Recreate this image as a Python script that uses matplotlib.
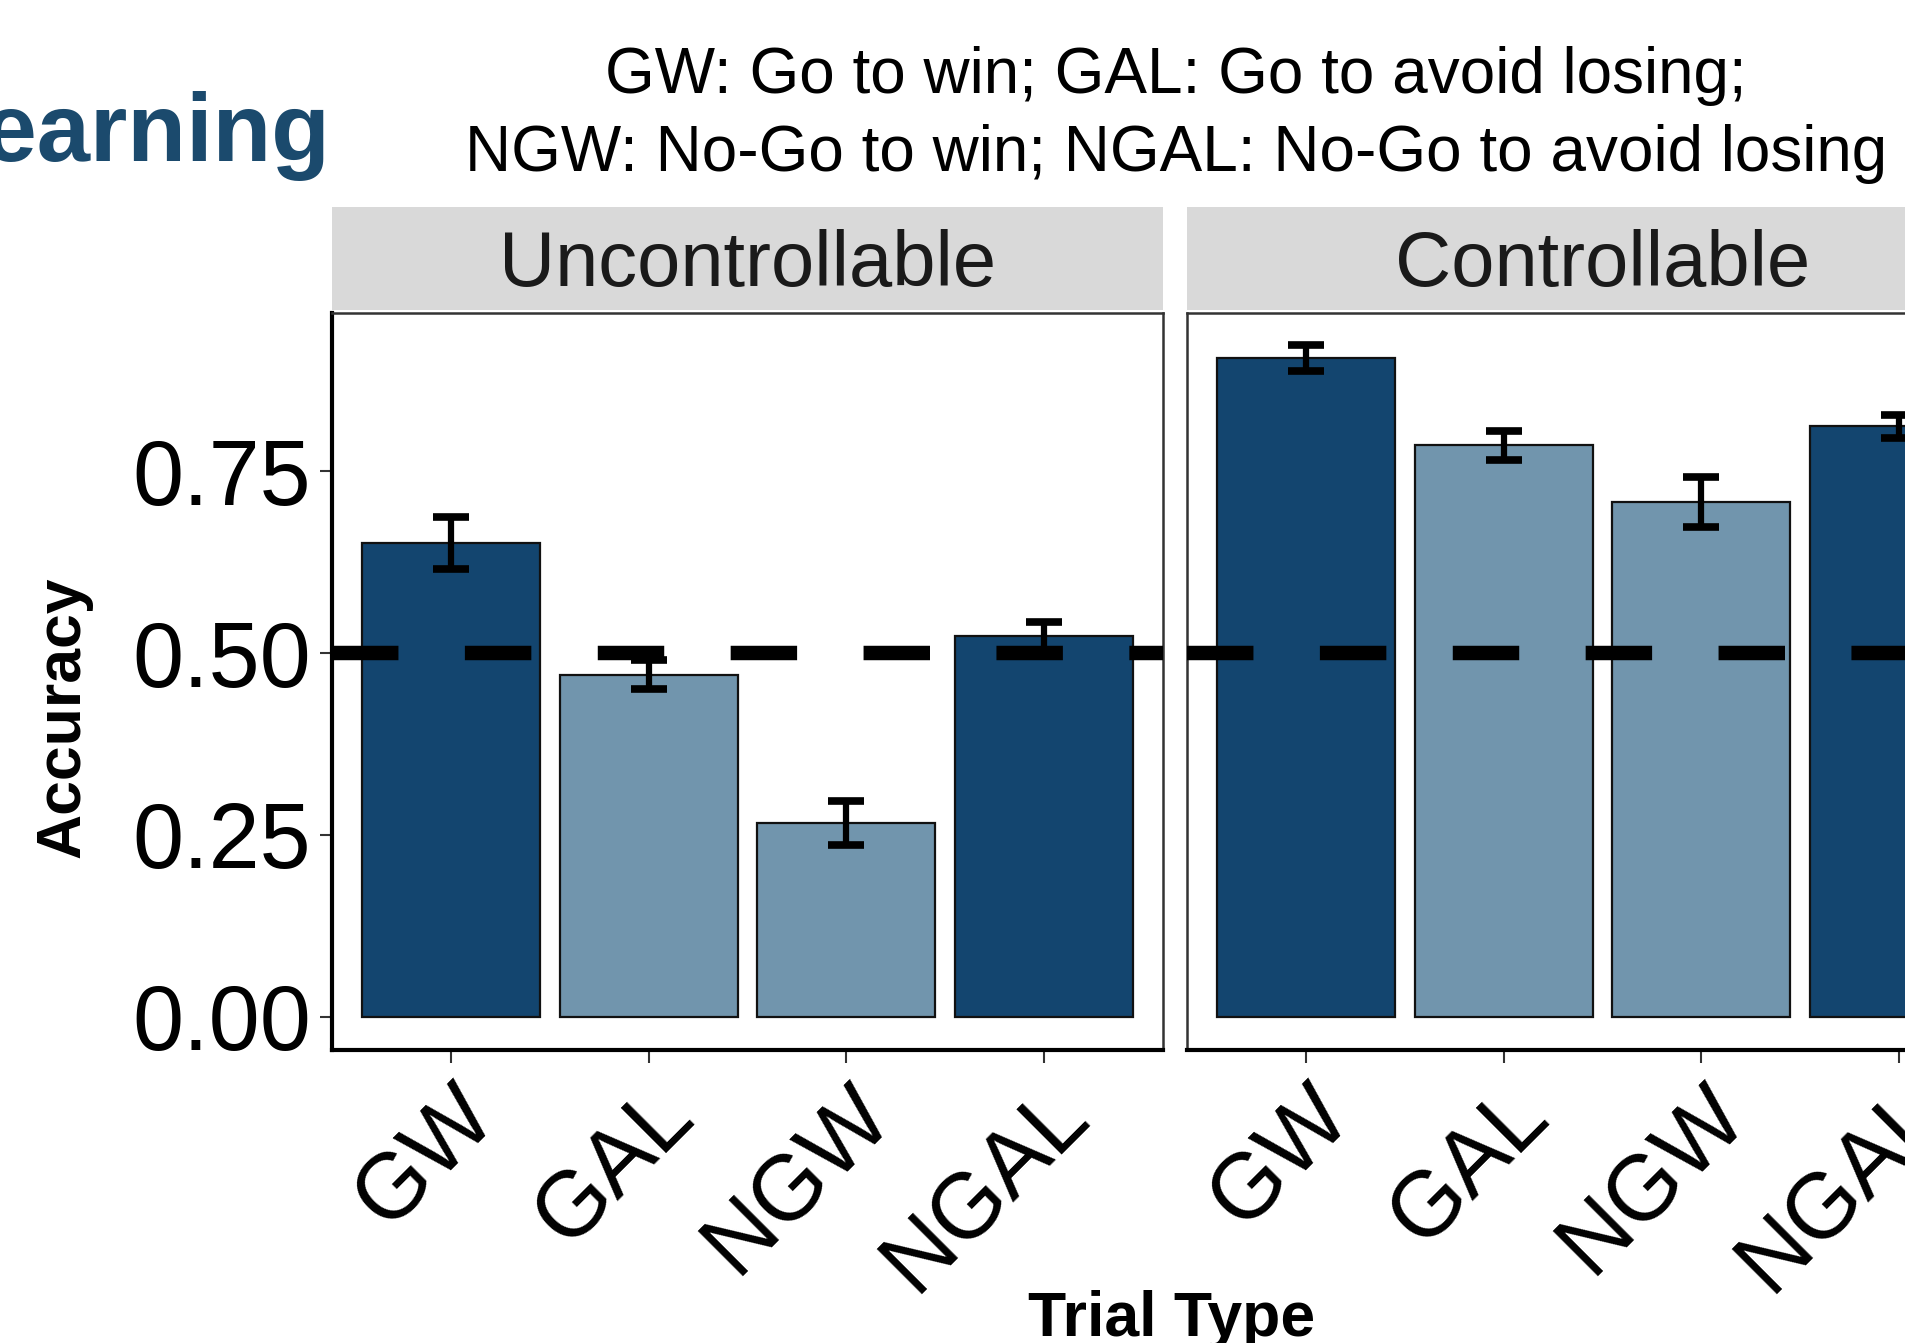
import matplotlib.pyplot as plt
from matplotlib.patches import Rectangle

plt.rcParams['font.family'] = ['Liberation Sans', 'DejaVu Sans']

# accuracy per trial type, with standard errors
trial_types = ['GW', 'GAL', 'NGW', 'NGAL']
conditions = ['Uncontrollable', 'Controllable']
acc_uncontrollable = [0.652, 0.470, 0.266, 0.524]
se_uncontrollable = [0.036, 0.020, 0.030, 0.019]
acc_controllable = [0.906, 0.786, 0.708, 0.812]
se_controllable = [0.018, 0.020, 0.034, 0.016]
chance = 0.5

dark = '#13456f'
light = '#7195ad'
bar_colors = [dark, light, light, dark]

W, H = 1905, 1343
fig = plt.figure(figsize=(W / 100, H / 100), dpi=100)

def frac(x0, y0, x1, y1):
    # pixel box -> figure fraction [left, bottom, width, height]
    return [x0 / W, 1 - y1 / H, (x1 - x0) / W, (y1 - y0) / H]

panel_x = [(332, 1163), (1187, 2018)]
panel_y = (313, 1050)
strip_y = (207, 310)

data = [(acc_uncontrollable, se_uncontrollable), (acc_controllable, se_controllable)]
pos = list(range(1, len(trial_types) + 1))

for i, (x0, x1) in enumerate(panel_x):
    ax = fig.add_axes(frac(x0, panel_y[0], x1, panel_y[1]))
    acc, se = data[i]
    ax.bar(pos, acc, width=0.9, color=bar_colors, edgecolor='#111111', linewidth=1.6, zorder=2)
    ax.errorbar(pos, acc, yerr=se, fmt='none', ecolor='black', elinewidth=4.5,
                capsize=13, capthick=5.5, zorder=3)
    ax.axhline(chance, color='black', linewidth=10.4, dashes=(4.6, 4.6), zorder=4)
    ax.set_xlim(0.4, 4.6)
    ax.set_ylim(-0.046, 0.968)
    ax.set_xticks(pos)
    ax.set_xticklabels(trial_types, rotation=45, ha='right', va='top',
                       rotation_mode='anchor', fontsize=66)
    ax.set_yticks([0, 0.25, 0.5, 0.75])
    ax.tick_params(axis='both', width=1.5, length=9, color='#333333', pad=6)
    if i == 0:
        ax.set_yticklabels(['0.00', '0.25', '0.50', '0.75'], fontsize=66)
    else:
        ax.set_yticklabels([])
        ax.tick_params(axis='y', length=0)
    for s in ax.spines.values():
        s.set_color('#333333')
        s.set_linewidth(1.8)
    ax.spines['bottom'].set_color('black')
    ax.spines['bottom'].set_linewidth(3)
    if i == 0:
        ax.spines['left'].set_color('black')
        ax.spines['left'].set_linewidth(3)

    # facet strip
    sax = fig.add_axes(frac(x0, strip_y[0], x1, strip_y[1]))
    sax.add_patch(Rectangle((0, 0), 1, 1, facecolor='#d9d9d9', edgecolor='none'))
    sax.set_xlim(0, 1)
    sax.set_ylim(0, 1)
    sax.axis('off')
    sax.text(0.5, 0.43, conditions[i], ha='center', va='center', fontsize=56, color='#1a1a1a')

fig.text(63 / W, 1 - 717 / H, 'Accuracy', rotation=90, ha='center', va='center',
         fontsize=45, fontweight='bold')
fig.text(1172 / W, 1 - 1290 / H, 'Trial Type', ha='center', va='top',
         fontsize=45, fontweight='bold')
fig.text(1176 / W, 1 - 115 / H, 'GW: Go to win; GAL: Go to avoid losing;\nNGW: No-Go to win; NGAL: No-Go to avoid losing',
         ha='center', va='center', fontsize=46, linespacing=1.38)
fig.text(330 / W, 1 - 161 / H, 'Learning', ha='right', va='baseline',
         fontsize=69, fontweight='bold', color='#1b4a6d')

fig.savefig('out.png', dpi=100)
plt.close()
